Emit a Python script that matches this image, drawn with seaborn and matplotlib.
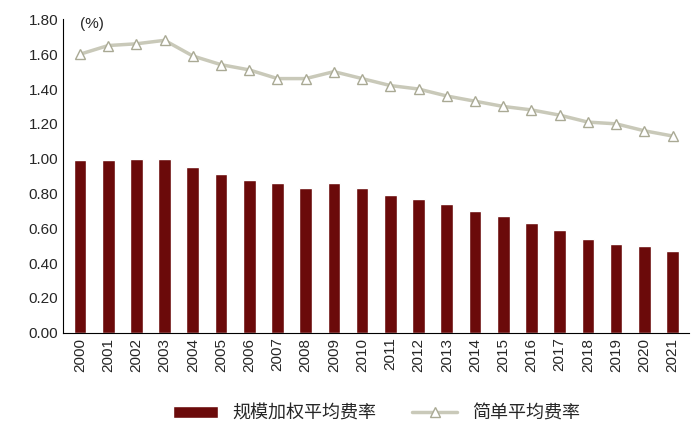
import numpy as np
import pandas as pd
import matplotlib
matplotlib.use("Agg")
import matplotlib.pyplot as plt
import seaborn as sns

years = [str(y) for y in range(2000, 2022)]
weighted = [0.99, 0.99, 1.00, 1.00, 0.95, 0.91, 0.88, 0.86, 0.83, 0.86, 0.83,
            0.79, 0.77, 0.74, 0.70, 0.67, 0.63, 0.59, 0.54, 0.51, 0.50, 0.47]
simple = [1.60, 1.65, 1.66, 1.68, 1.59, 1.54, 1.51, 1.46, 1.46, 1.50, 1.46,
          1.42, 1.40, 1.36, 1.33, 1.30, 1.28, 1.25, 1.21, 1.20, 1.16, 1.13]

sns.set_style("white")
plt.rcParams["font.family"] = ["Liberation Sans", "Noto Sans CJK SC", "DejaVu Sans"]

df = pd.DataFrame({"year": years, "weighted": weighted, "simple": simple})

fig, ax = plt.subplots(figsize=(7, 4.32), dpi=100)
sns.barplot(data=df, x="year", y="weighted", color="#6B0A0A", width=0.45,
            saturation=1, ax=ax, label="规模加权平均费率")
ax.plot(np.arange(len(years)), simple, color="#C9C9B9", lw=2.5,
        marker="^", markersize=7, markerfacecolor="white",
        markeredgecolor="#A9A994", label="简单平均费率")

ax.set_ylim(0, 1.8)
ax.set_yticks(np.arange(0, 1.81, 0.2))
ax.set_yticklabels([f"{v:.2f}" for v in np.arange(0, 1.81, 0.2)], fontsize=11)
ax.set_xlim(-0.6, len(years) - 0.4)
ax.tick_params(axis="x", labelrotation=90, labelsize=11)
ax.set_xlabel("")
ax.set_ylabel("")
ax.text(0.0, 1.75, "(%)", fontsize=11)
for s in ["top", "right"]:
    ax.spines[s].set_visible(False)
for s in ["left", "bottom"]:
    ax.spines[s].set_color("black")
ax.tick_params(axis="both", length=0)

h, l = ax.get_legend_handles_labels()
order = [l.index("规模加权平均费率"), l.index("简单平均费率")]
ax.legend([h[i] for i in order], [l[i] for i in order],
          loc="upper center", bbox_to_anchor=(0.5, -0.18), ncol=2,
          frameon=False, fontsize=13, handlelength=2.5, columnspacing=2)
fig.subplots_adjust(left=0.09, right=0.985, top=0.955, bottom=0.23)
fig.savefig("out.png", dpi=100)
